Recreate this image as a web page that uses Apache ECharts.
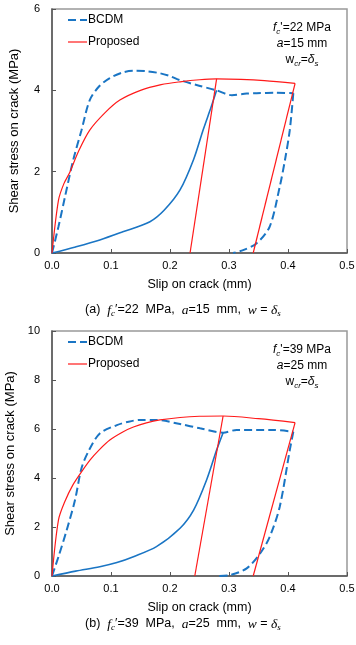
<!DOCTYPE html>
<html><head><meta charset="utf-8">
<script src="https://cdn.jsdelivr.net/npm/echarts@6/dist/echarts.min.js"></script>
<style>html,body{margin:0;padding:0;background:#fff}#c{width:356px;height:645px}</style>
</head><body><div id="c"></div>
<script>
// ---- data: chart (a) ----
const xTicks = [0.0, 0.1, 0.2, 0.3, 0.4, 0.5];
const legendNames = ['BCDM', 'Proposed'];
const bcdmLoadA = [[0,0],[0.011,0.65],[0.022,1.38],[0.036,2.29],[0.05,3.02],[0.064,3.76],[0.08,4.1],[0.098,4.3],[0.12,4.44],[0.138,4.48],[0.16,4.47],[0.183,4.42],[0.2,4.35],[0.217,4.25],[0.245,4.13],[0.279,4.0],[0.305,3.88],[0.33,3.92],[0.347,3.93],[0.38,3.94],[0.409,3.93]];
const bcdmUnA = [[0.409,3.93],[0.403,3.02],[0.395,2.3],[0.386,1.63],[0.369,0.65],[0.347,0.24],[0.324,0.07],[0.307,0]];
const bcdmReA = [[0,0],[0.04,0.15],[0.081,0.32],[0.12,0.52],[0.166,0.77],[0.19,1.05],[0.217,1.55],[0.24,2.3],[0.256,3.02],[0.27,3.6],[0.279,4.0]];
const propA = [[0,0],[0.011,1.3],[0.02,1.7],[0.03,1.98],[0.045,2.5],[0.064,3.02],[0.09,3.45],[0.115,3.76],[0.15,4.0],[0.185,4.14],[0.217,4.21],[0.25,4.26],[0.279,4.28],[0.32,4.27],[0.36,4.24],[0.412,4.17]];
const propUnA1 = [[0.279,4.28],[0.234,0]];
const propUnA2 = [[0.412,4.17],[0.341,0]];
// ---- data: chart (b) ----
const bcdmLoadB = [[0,0],[0.011,0.79],[0.025,1.88],[0.039,3.1],[0.05,4.4],[0.062,5.1],[0.081,5.82],[0.11,6.16],[0.13,6.3],[0.149,6.37],[0.177,6.37],[0.217,6.2],[0.251,6.03],[0.29,5.85],[0.313,5.96],[0.375,5.96],[0.409,5.89]];
const bcdmUnB = [[0.409,5.89],[0.403,5.14],[0.386,2.83],[0.369,1.6],[0.353,0.93],[0.33,0.31],[0.302,0.04],[0.28,0]];
const bcdmReB = [[0,0],[0.04,0.2],[0.081,0.38],[0.11,0.55],[0.138,0.79],[0.177,1.2],[0.217,1.95],[0.24,2.69],[0.262,3.92],[0.279,5.14],[0.29,5.85]];
const propB = [[0,0],[0.011,2.29],[0.022,3.05],[0.035,3.7],[0.05,4.25],[0.065,4.75],[0.08,5.15],[0.098,5.55],[0.12,5.88],[0.138,6.08],[0.16,6.25],[0.183,6.37],[0.217,6.47],[0.25,6.52],[0.29,6.53],[0.35,6.42],[0.412,6.26]];
const propUnB1 = [[0.29,6.53],[0.242,0]];
const propUnB2 = [[0.412,6.26],[0.341,0]];

const SANS = 'Liberation Sans, Arial, sans-serif';
const SERIF = 'Liberation Serif, Times New Roman, serif';
const BLUE = '#1a75c4', RED = '#ff1a1a';
const DASH = [8,4];

const chart = echarts.init(document.getElementById('c'), null, {renderer:'canvas'});

function xAx(idx){
  return {gridIndex: idx, type:'value', min:0, max:0.5, interval:0.1,
    name:'Slip on crack (mm)', nameLocation:'middle', nameGap:25,
    nameTextStyle:{fontFamily:SANS, fontSize:12.5, color:'#000'},
    axisLine:{show:true, onZero:false, lineStyle:{color:'#555', width:1.5}},
    axisTick:{show:true, inside:true, length:4, lineStyle:{color:'#555'}},
    axisLabel:{fontFamily:SANS, fontSize:11, color:'#000', margin:7, formatter:v=>v.toFixed(1)},
    splitLine:{show:false}};
}
function yAx(idx, max){
  return {gridIndex: idx, type:'value', min:0, max:max, interval:2,
    name:'Shear stress on crack (MPa)', nameLocation:'middle', nameGap:31,
    nameTextStyle:{fontFamily:SANS, fontSize:13, color:'#000'},
    axisLine:{show:true, lineStyle:{color:'#555', width:1.5}},
    axisTick:{show:true, inside:true, length:4, lineStyle:{color:'#555'}},
    axisLabel:{fontFamily:SANS, fontSize:11, color:'#000', margin:12},
    splitLine:{show:false}};
}
function ser(name, data, idx, color, width, dashed, smooth){
  return {name, type:'line', data, xAxisIndex:idx, yAxisIndex:idx, showSymbol:false, symbol:'none',
    smooth: smooth, animation:false,
    lineStyle:{color, width, type: dashed ? DASH : 'solid'}, itemStyle:{color}};
}
const richSans = {
  i:{fontStyle:'italic', fontFamily:SANS, fontSize:12},
  n:{fontFamily:SANS, fontSize:12},
  sub:{fontStyle:'italic', fontFamily:SANS, fontSize:8, padding:[8,0,0,0]}
};
const richCap = {
  n:{fontFamily:SANS, fontSize:12.5},
  i:{fontStyle:'italic', fontFamily:SERIF, fontSize:13.5},
  sub:{fontStyle:'italic', fontFamily:SERIF, fontSize:9, padding:[8,0,0,0]}
};
function txt(x, y, text, rich, align){
  return {type:'text', x, y, silent:true,
    style:{text, rich, x:0, y:0, fill:'#000', font:'12px '+SANS, textAlign:align||'center', align:align||'center', textVerticalAlign:'middle', verticalAlign:'middle'}};
}
function legendItems(y0){
  return [
    {type:'line', silent:true, shape:{x1:68, y1:y0, x2:87, y2:y0}, style:{stroke:BLUE, lineWidth:2, lineDash:DASH}},
    txt(88, y0, '{n|'+legendNames[0]+'}', richSans, 'left'),
    {type:'line', silent:true, shape:{x1:68, y1:y0+22, x2:87, y2:y0+22}, style:{stroke:RED, lineWidth:1.2}},
    txt(88, y0+22, '{n|'+legendNames[1]+'}', richSans, 'left')
  ];
}

chart.setOption({
  animation:false,
  grid:[
    {left:52, top:9, width:295, height:244, show:true, borderColor:'#999', borderWidth:1.5, backgroundColor:'transparent', containLabel:false, outerBoundsMode:'none'},
    {left:52, top:331, width:295, height:245, show:true, borderColor:'#999', borderWidth:1.5, backgroundColor:'transparent', containLabel:false, outerBoundsMode:'none'}
  ],
  xAxis:[xAx(0), xAx(1)],
  yAxis:[yAx(0,6), yAx(1,10)],
  series:[
    ser('BCDM', bcdmLoadA, 0, BLUE, 2, true, 0.3),
    ser('BCDM', bcdmUnA, 0, BLUE, 2, true, 0.3),
    ser('BCDM', bcdmReA, 0, BLUE, 1.6, false, 0.3),
    ser('Proposed', propA, 0, RED, 1.2, false, 0.3),
    ser('Proposed', propUnA1, 0, RED, 1.2, false, false),
    ser('Proposed', propUnA2, 0, RED, 1.2, false, false),
    ser('BCDM', bcdmLoadB, 1, BLUE, 2, true, 0.3),
    ser('BCDM', bcdmUnB, 1, BLUE, 2, true, 0.3),
    ser('BCDM', bcdmReB, 1, BLUE, 1.6, false, 0.3),
    ser('Proposed', propB, 1, RED, 1.2, false, 0.3),
    ser('Proposed', propUnB1, 1, RED, 1.2, false, false),
    ser('Proposed', propUnB2, 1, RED, 1.2, false, false)
  ],
  graphic:[].concat(legendItems(20), legendItems(342), [
    txt(302, 28, "{i|f}{sub|c}{n|'=22 MPa}", richSans),
    txt(302, 44, "{i|a}{n|=15 mm}", richSans),
    txt(302, 60, "{n|w}{sub|cr}{n|=}{i|δ}{sub|s}", richSans),
    txt(302, 350, "{i|f}{sub|c}{n|'=39 MPa}", richSans),
    txt(302, 366, "{i|a}{n|=25 mm}", richSans),
    txt(302, 382, "{n|w}{sub|cr}{n|=}{i|δ}{sub|s}", richSans),
    txt(183, 310, "{n|(a)  }{i|f}{sub|c}{n|′=22  MPa,  }{i|a}{n|=15  mm,  }{i|w}{n| = }{i|δ}{sub|s}", richCap),
    txt(183, 624, "{n|(b)  }{i|f}{sub|c}{n|′=39  MPa,  }{i|a}{n|=25  mm,  }{i|w}{n| = }{i|δ}{sub|s}", richCap)
  ])
});
</script></body></html>
